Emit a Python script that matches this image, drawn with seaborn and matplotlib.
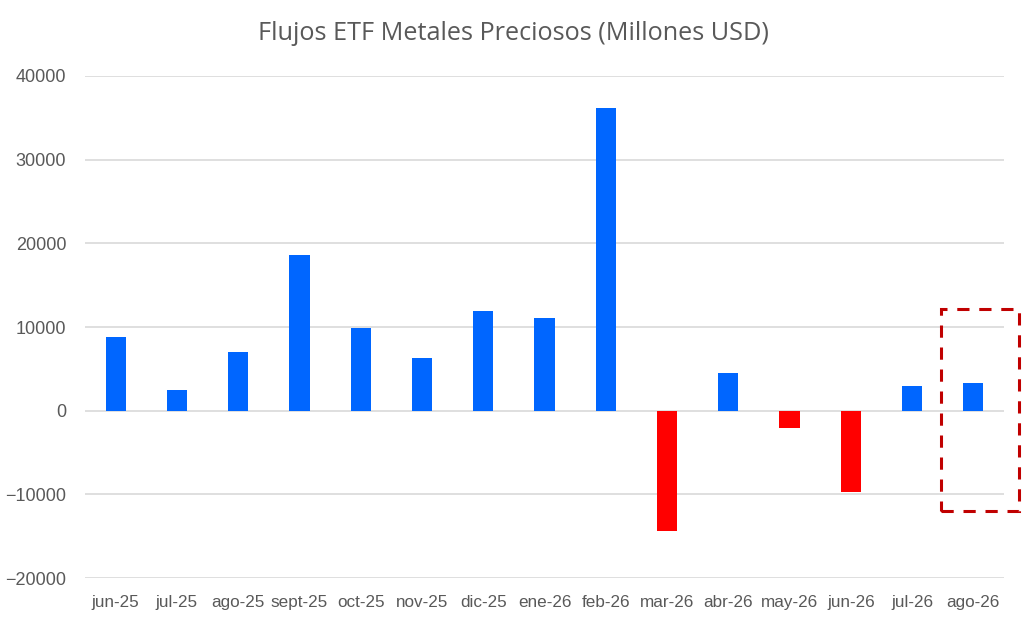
import seaborn as sns
import matplotlib.pyplot as plt
import matplotlib.patches as patches
import pandas as pd

months = ["jun-25", "jul-25", "ago-25", "sept-25", "oct-25", "nov-25", "dic-25", "ene-26",
          "feb-26", "mar-26", "abr-26", "may-26", "jun-26", "jul-26", "ago-26"]
flows = [8850, 2480, 7050, 18570, 9930, 6330, 11970, 11130,
         36200, -14400, 4530, -2040, -9720, 2960, 3320]
highlight = "ago-26"
highlight_range = [-12000, 12100]

sns.set_style("white")
plt.rcParams['font.family'] = ['Liberation Sans', 'DejaVu Sans']

df = pd.DataFrame({"mes": months, "flujo": flows})
df["signo"] = ["pos" if v >= 0 else "neg" for v in flows]

fig = plt.figure(figsize=(10.27, 6.27), dpi=100)
ax = fig.add_axes([0.0828, 0.0781, 0.8948, 0.8007])
sns.barplot(x="mes", y="flujo", hue="signo", data=df, palette={"pos": "#0066FF", "neg": "#FF0000"},
            dodge=False, width=0.33, saturation=1, linewidth=0, legend=False, ax=ax)

ax.set_ylim(-20000, 40000)
ax.set_xlim(-0.5, len(months) - 0.5)
ax.set_yticks(range(-20000, 40001, 10000))
ax.yaxis.grid(True, color="#D9D9D9", linewidth=1.2)
ax.set_axisbelow(True)
sns.despine(ax=ax, left=True, bottom=True)
ax.set_xlabel("")
ax.set_ylabel("")
ax.tick_params(axis="both", length=0, labelcolor="#595959")
ax.tick_params(axis="y", pad=13.5, labelsize=13)
ax.tick_params(axis="x", pad=12, labelsize=12.3)

fig.suptitle("Flujos ETF Metales Preciosos (Millones USD)", x=0.5, y=0.966,
             fontsize=18.2, color="#595959", family=["Open Sans", "DejaVu Sans"])

# marco discontinuo sobre el último mes
i = months.index(highlight)
rect = patches.Rectangle((i - 0.53, highlight_range[0]), 1.27, highlight_range[1] - highlight_range[0],
                         fill=False, edgecolor="#C00000", linewidth=2.2,
                         linestyle=(0, (4, 3.2)), clip_on=False)
ax.add_patch(rect)

fig.savefig("out.png", dpi=100)
